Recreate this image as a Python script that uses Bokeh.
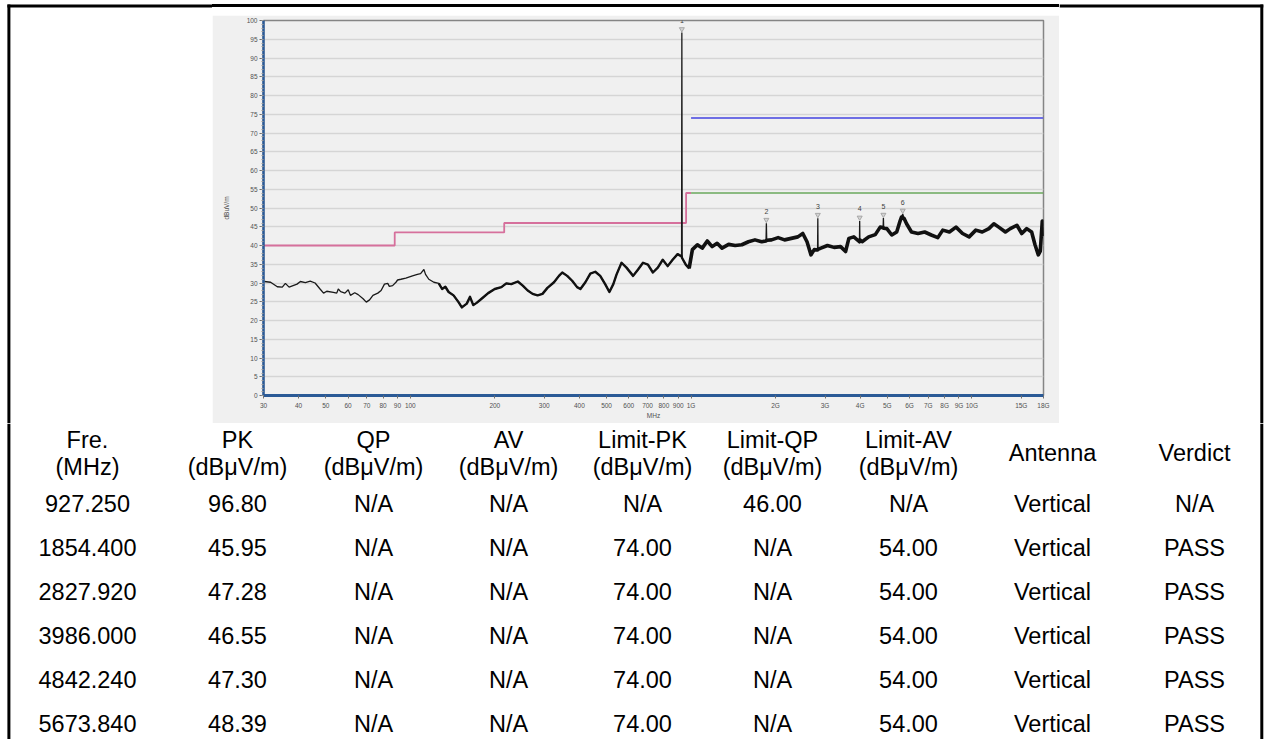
from bokeh.plotting import figure
from bokeh.layouts import row, column
from bokeh.models import (Range1d, FixedTicker, SingleIntervalTicker,
                          ColumnDataSource, LabelSet, Div)
from bokeh.embed import file_html
from bokeh.resources import INLINE
from bokeh.core.properties import value

FONT = "Liberation Sans"

# ---------------- data ----------------
trace_freq_mhz = [
    30.2, 31.8, 33.6, 35.0, 35.9, 37.0, 39.5, 40.6, 42.3, 44.0, 45.8, 47.7,
    49.1, 50.4, 53.2, 54.7, 55.4, 56.5, 58.5, 60.1, 61.2, 63.4, 65.2, 67.9,
    69.7, 71.6, 73.6, 76.6, 78.7, 80.9, 83.1, 84.2, 86.5, 88.9, 90.1, 92.6,
    96.4, 101.8, 106.0, 108.8, 111.8, 113.3, 116.4, 121.3, 126.3, 129.8,
    133.3, 136.9, 142.6, 148.5, 152.6, 158.9, 163.2, 167.6, 172.3, 179.4,
    189.4, 199.9, 211.1, 219.8, 228.9, 241.5, 251.5, 261.9, 272.7, 284.0,
    295.7, 307.9, 325.0, 338.4, 347.7, 362.1, 377.1, 392.7, 403.6, 420.3,
    437.7, 455.8, 474.7, 494.3, 511.8, 528.6, 542.9, 565.4, 588.8, 621.7,
    647.5, 674.2, 702.0, 731.1, 761.3, 792.7, 825.5, 859.7, 895.2, 925.0,
    930.0, 957.6, 984.3, 1011, 1053, 1096, 1142, 1189, 1238, 1289, 1361,
    1436, 1516, 1601, 1689, 1783, 1849, 1860, 1934, 2042, 2153, 2274, 2401,
    2500, 2588, 2674, 2746, 2822, 2834, 2900, 3061, 3231, 3409, 3551, 3648,
    3799, 3978, 3994, 4066, 4291, 4530, 4716, 4830, 4855, 4981, 5186, 5400,
    5550, 5620, 5740, 5856, 6097, 6433, 6792, 7171, 7566, 7879, 8319, 8784,
    9266, 9782, 10330, 10890, 11500, 11980, 12470, 13170, 13710, 14470,
    15060, 15690, 16330, 16790, 17250, 17530, 17820, 18000,
]
trace_level_dbuv = [
    30.4, 30.2, 29.0, 28.9, 29.9, 28.9, 29.7, 30.4, 30.1, 30.5, 30.0, 28.4,
    27.3, 27.8, 27.5, 27.3, 28.4, 27.7, 27.3, 28.2, 26.7, 27.4, 26.9, 25.8,
    24.9, 25.5, 26.7, 27.3, 28.0, 29.7, 29.9, 29.1, 29.3, 30.2, 30.8, 31.0,
    31.3, 31.9, 32.3, 32.5, 33.6, 32.3, 31.0, 30.2, 29.9, 28.4,
    29.0, 27.6, 26.7, 24.9, 23.5, 24.5, 26.3, 24.1, 24.7, 25.8,
    27.3, 28.4, 28.9, 29.9, 29.7, 30.4, 29.3, 28.0, 27.1, 26.7,
    27.1, 28.7, 30.2, 31.9, 32.8, 31.9, 30.6, 28.9, 28.4, 30.2,
    32.5, 33.0, 31.9, 29.7, 27.6, 29.7, 32.3, 35.4, 34.1, 31.9,
    33.6, 35.4, 34.9, 32.8, 34.1, 36.2, 34.5, 36.2, 37.7, 37.1,
    36.6, 34.9, 33.9, 38.9, 40.2, 39.3, 41.2, 39.7, 40.6, 39.3, 40.3,
    40.0, 40.2, 41.0, 41.5, 41.0, 41.2, 41.4, 41.5, 42.1, 41.5, 41.9, 42.3,
    43.2, 41.0, 37.5, 38.9, 38.8, 39.0, 39.3, 40.0, 39.5, 39.7, 38.4, 41.9,
    42.3, 41.0, 41.5, 41.0, 42.3, 42.9, 44.9, 44.8, 44.6, 44.5, 42.8, 43.6,
    46.5, 47.6, 47.2, 45.8, 43.6, 43.2, 43.6, 42.8, 42.1, 44.1, 43.6, 44.9,
    43.2, 42.3, 44.1, 43.6, 44.5, 45.8, 44.9, 43.6, 44.5, 45.4,
    43.2, 44.5, 43.6, 40.2, 37.5, 38.5, 46.5, 42.5,
]

qp_limit_edges_mhz = [30, 88, 216, 960, 1000]
qp_limit_dbuv = [40.0, 43.5, 46.0, 54.0, 54.0]
pk_limit_freq_mhz = [1000, 18000]
pk_limit_dbuv = [74.0, 74.0]
av_limit_freq_mhz = [1000, 18000]
av_limit_dbuv = [54.0, 54.0]

marker_freq_mhz = [927.250, 1854.400, 2827.920, 3986.000, 4842.240, 5673.840]
marker_pk = [96.80, 45.95, 47.28, 46.55, 47.30, 48.39]
marker_qp = [None, None, None, None, None, None]
marker_av = [None, None, None, None, None, None]
limit_pk = [None, 74.00, 74.00, 74.00, 74.00, 74.00]
limit_qp = [46.00, None, None, None, None, None]
limit_av = [None, 54.00, 54.00, 54.00, 54.00, 54.00]
antenna = ["Vertical", "Vertical", "Vertical", "Vertical", "Vertical", "Vertical"]
verdict = ["N/A", "PASS", "PASS", "PASS", "PASS", "PASS"]

xtick_values = [30, 40, 50, 60, 70, 80, 90, 100, 200, 300, 400, 500, 600,
                700, 800, 900, 1000, 2000, 3000, 4000, 5000, 6000, 7000,
                8000, 9000, 10000, 15000, 18000]
xtick_labels = ["30", "40", "50", "60", "70", "80", "90", "100", "200", "300",
                "400", "500", "600", "700", "800", "900", "1G", "2G", "3G",
                "4G", "5G", "6G", "7G", "8G", "9G", "10G", "15G", "18G"]

header_line1 = ["Fre.", "PK", "QP", "AV", "Limit-PK", "Limit-QP", "Limit-AV",
                "Antenna", "Verdict"]
header_line2 = ["(MHz)", "(dBμV/m)", "(dBμV/m)", "(dBμV/m)", "(dBμV/m)",
                "(dBμV/m)", "(dBμV/m)", "", ""]

# ---------------- page geometry (pixels) ----------------
W, H = 1265, 739
LEFT_W, CHART_W = 212, 847
RIGHT_W = W - LEFT_W - CHART_W
STRIP_H, CHART_H = 15, 408
TOP_H = STRIP_H + CHART_H
TABLE_H = H - TOP_H
BX_L, BX_R, BY_T = 8.4, 1261.3, 5.4     # outer box lines
BW = 3


def blank(width, height, x0, x1, y_top, y_bot):
    f = figure(width=width, height=height,
               x_range=Range1d(x0, x1), y_range=Range1d(y_bot, y_top),
               output_backend="svg", toolbar_location=None,
               x_axis_location=None, y_axis_location=None,
               min_border=0, outline_line_color=None,
               background_fill_color="white", border_fill_color="white")
    f.grid.visible = False
    return f


def box_lines(f, xs0, ys0, xs1, ys1):
    f.segment(x0=xs0, y0=ys0, x1=xs1, y1=ys1, line_color="black",
              line_width=BW, line_cap="butt")


# ---------------- outer box pieces ----------------
left = blank(LEFT_W, TOP_H, 0, LEFT_W, 0, TOP_H)
box_lines(left, [BX_L, BX_L - 1.5], [BY_T - 1.5, BY_T], [BX_L, LEFT_W], [TOP_H, BY_T])

strip = Div(text="", width=CHART_W, height=STRIP_H, margin=0,
            styles={"overflow": "hidden", "padding": "0px",
                    "background": ("linear-gradient(to bottom, #ffffff 0px, "
                                   "#ffffff 4px, #000000 4px, #000000 7px, "
                                   "#ffffff 7px, #ffffff 15px)")})

right = blank(RIGHT_W, TOP_H, LEFT_W + CHART_W, W, 0, TOP_H)
box_lines(right, [LEFT_W + CHART_W, BX_R], [BY_T, BY_T - 1.5],
          [BX_R + 1.5, BX_R], [BY_T, TOP_H])

# ---------------- chart ----------------
chart = figure(width=CHART_W, height=CHART_H, x_axis_type="log",
               x_range=Range1d(30, 18000), y_range=Range1d(0, 100),
               output_backend="svg", toolbar_location=None,
               min_border_left=51, min_border_right=16,
               min_border_top=5, min_border_bottom=28,
               background_fill_color="#f0f0f0", border_fill_color="#f0f0f0",
               outline_line_color="#858585", outline_line_width=1.5)

chart.xgrid.visible = False
chart.ygrid.grid_line_color = "#d5d5d5"
chart.ygrid.grid_line_width = 1.5

yax = chart.yaxis[0]
yax.ticker = SingleIntervalTicker(interval=5, num_minor_ticks=5)
yax.axis_label = "dBuV/m"
yax.axis_label_text_font = FONT
yax.axis_label_text_font_size = "6.5px"
yax.axis_label_text_font_style = "normal"
yax.axis_label_text_color = "#505050"
yax.axis_label_standoff = 14
yax.major_label_text_font = FONT
yax.major_label_text_font_size = "6.5px"
yax.major_label_text_color = "#505050"
yax.major_label_standoff = 2
yax.major_tick_in = 0
yax.major_tick_out = 4
yax.minor_tick_in = 0
yax.minor_tick_out = 2
yax.major_tick_line_color = "#707070"
yax.minor_tick_line_color = "#9a9a9a"
yax.axis_line_color = "#2b5a96"
yax.axis_line_width = 2.5

xax = chart.xaxis[0]
xax.ticker = FixedTicker(ticks=xtick_values)
xax.major_label_overrides = {v: s for v, s in zip(xtick_values, xtick_labels)}
xax.axis_label = "MHz"
xax.axis_label_text_font = FONT
xax.axis_label_text_font_size = "6.5px"
xax.axis_label_text_font_style = "normal"
xax.axis_label_text_color = "#505050"
xax.axis_label_standoff = 0
xax.major_label_text_font = FONT
xax.major_label_text_font_size = "6.5px"
xax.major_label_text_color = "#505050"
xax.major_label_standoff = 3
xax.major_tick_in = 0
xax.major_tick_out = 3
xax.major_tick_line_color = "#707070"
xax.minor_tick_line_color = None
xax.axis_line_color = "#2b5a96"
xax.axis_line_width = 3

# limit lines
chart.step(qp_limit_edges_mhz, qp_limit_dbuv, mode="after",
           line_color="#d6709c", line_width=1.8)
chart.line(pk_limit_freq_mhz, pk_limit_dbuv, line_color="#6e6ee4", line_width=1.8)
chart.line(av_limit_freq_mhz, av_limit_dbuv, line_color="#6aa85c", line_width=1.3)

# measured trace (marker peaks merged in as spikes)
merged = sorted(zip(trace_freq_mhz + marker_freq_mhz, trace_level_dbuv + marker_pk))
chart.line([m[0] for m in merged], [m[1] for m in merged],
           line_color="#1a1a1a", line_width=1.3)

mid = [(f, v) for f, v in zip(trace_freq_mhz, trace_level_dbuv) if 125 <= f <= 1000]
chart.line([m[0] for m in mid], [m[1] for m in mid],
           line_color="#111111", line_width=2.4, line_join="round")
high = [(f, v) for f, v in zip(trace_freq_mhz, trace_level_dbuv) if f >= 980]
chart.line([m[0] for m in high], [m[1] for m in high],
           line_color="#111111", line_width=3.6, line_join="round")

# peak markers
msrc = ColumnDataSource(dict(
    f=marker_freq_mhz, pk=marker_pk,
    tri=[v + 0.9 for v in marker_pk],
    label=[str(i + 1) for i in range(len(marker_pk))]))
chart.scatter("f", "tri", source=msrc, marker="inverted_triangle", size=5,
              fill_color="#d4d4d4", line_color="#9a9a9a", line_width=0.8)
chart.add_layout(LabelSet(x="f", y="pk", text="label", source=msrc,
                          y_offset=12, text_align="center",
                          text_baseline="middle", text_font=value(FONT),
                          text_font_size="7px", text_color="#404040"))

# ---------------- table ----------------
tbl = blank(W, TABLE_H, 0, W, TOP_H, H)
box_lines(tbl, [BX_L, BX_R], [TOP_H, TOP_H], [BX_L, BX_R], [H, H])

col_x = [87, 237, 373, 508, 642, 772, 908, 1052, 1194]
head_y1, head_y2, head_mid = 439, 466, 452
row_y = [503, 547, 591, 635, 679, 723]


def fmt(v, nd):
    return "N/A" if v is None else f"{v:.{nd}f}"


tx, ty, tt = [], [], []
for i, (h1, h2) in enumerate(zip(header_line1, header_line2)):
    if h2:
        tx += [col_x[i], col_x[i]]
        ty += [head_y1, head_y2]
        tt += [h1, h2]
    else:
        tx.append(col_x[i]); ty.append(head_mid); tt.append(h1)

for r in range(len(marker_freq_mhz)):
    cells = [fmt(marker_freq_mhz[r], 3), fmt(marker_pk[r], 2), fmt(marker_qp[r], 2),
             fmt(marker_av[r], 2), fmt(limit_pk[r], 2), fmt(limit_qp[r], 2),
             fmt(limit_av[r], 2), antenna[r], verdict[r]]
    for c, s in enumerate(cells):
        tx.append(col_x[c]); ty.append(row_y[r]); tt.append(s)

tbl.text(x="x", y="y", text="t", source=ColumnDataSource(dict(x=tx, y=ty, t=tt)),
         text_font=value(FONT), text_font_size="23.5px", text_color="black",
         text_align="center", text_baseline="middle")

layout = column(row(left, column(strip, chart), right), tbl)

open("out.html", "w").write(file_html(layout, INLINE))
